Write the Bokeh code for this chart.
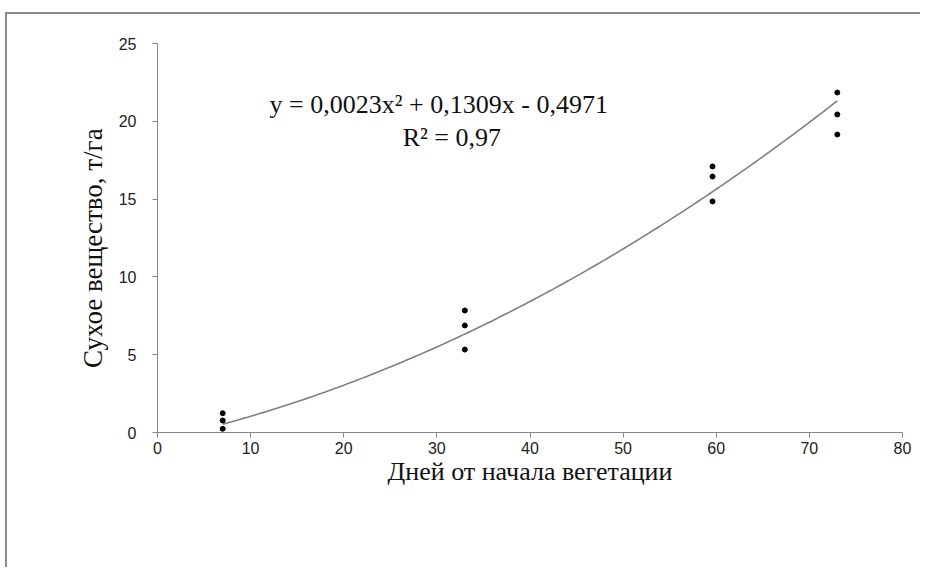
from bokeh.plotting import figure
from bokeh.models import Range1d, FixedTicker, Label
from bokeh.embed import file_html
from bokeh.resources import INLINE
import numpy as np

# Data
days = [7, 7, 7, 33, 33, 33, 59.6, 59.6, 59.6, 73, 73, 73]
dry_matter = [1.24, 0.77, 0.24, 7.84, 6.88, 5.33, 17.1, 16.45, 14.85, 21.85, 20.44, 19.15]
# Trendline coefficients as printed on the chart
coef_a, coef_b, coef_c = 0.0023, 0.1309, -0.4971
trend_x_min, trend_x_max = 7, 73
x_ticks = [0, 10, 20, 30, 40, 50, 60, 70, 80]
y_ticks = [0, 5, 10, 15, 20, 25]
eq_text = "y = 0,0023x² + 0,1309x - 0,4971"
r2_text = "R² = 0,97"
x_title = "Дней от начала вегетации"
y_title = "Сухое вещество, т/га"

p = figure(width=915, height=555, output_backend="svg", toolbar_location=None,
           x_range=Range1d(0, 80), y_range=Range1d(0, 25),
           min_border_left=150, min_border_right=20, min_border_top=29, min_border_bottom=137)
p.outline_line_color = None
p.xgrid.grid_line_color = None
p.ygrid.grid_line_color = None
p.background_fill_color = "white"
p.border_fill_color = "white"
p.styles = {"border-left": "2px solid #8c8c8c", "border-top": "2px solid #8c8c8c",
            "margin-left": "5px", "margin-top": "12px"}

axis_col = "#868686"
for ax in (p.xaxis[0], p.yaxis[0]):
    ax.axis_line_color = axis_col
    ax.major_tick_line_color = axis_col
    ax.minor_tick_line_color = None
    ax.major_tick_in = 0
    ax.major_tick_out = 5
    ax.major_label_text_font = "Liberation Sans"
    ax.major_label_text_font_size = "16px"
    ax.major_label_text_color = "#222222"
    ax.axis_label_text_font = "Liberation Serif"
    ax.axis_label_text_font_size = "26px"
    ax.axis_label_text_font_style = "normal"
    ax.axis_label_text_color = "#111111"

p.xaxis[0].ticker = FixedTicker(ticks=x_ticks)
p.yaxis[0].ticker = FixedTicker(ticks=y_ticks)
p.xaxis[0].axis_label = x_title
p.yaxis[0].axis_label = y_title + "\u00a0\u00a0\u00a0"
p.yaxis[0].axis_label_text_font_size = "27px"
p.xaxis[0].major_label_standoff = 4
p.yaxis[0].major_label_standoff = 16
p.xaxis[0].axis_label_standoff = 0
p.yaxis[0].axis_label_standoff = 8

tx = np.linspace(trend_x_min, trend_x_max, 200)
ty = coef_a * tx ** 2 + coef_b * tx + coef_c
p.line(tx, ty, line_color="#7f7f7f", line_width=1.6)
p.scatter(days, dry_matter, size=5, color="black")

p.add_layout(Label(x=30.2, y=21.08, text=eq_text, text_align="center", text_baseline="middle",
                   text_font="Liberation Serif", text_font_size="26px", text_color="#111111"))
p.add_layout(Label(x=31.6, y=18.96, text=r2_text, text_align="center", text_baseline="middle",
                   text_font="Liberation Serif", text_font_size="26px", text_color="#111111"))

open("out.html", "w").write(file_html(p, INLINE))
